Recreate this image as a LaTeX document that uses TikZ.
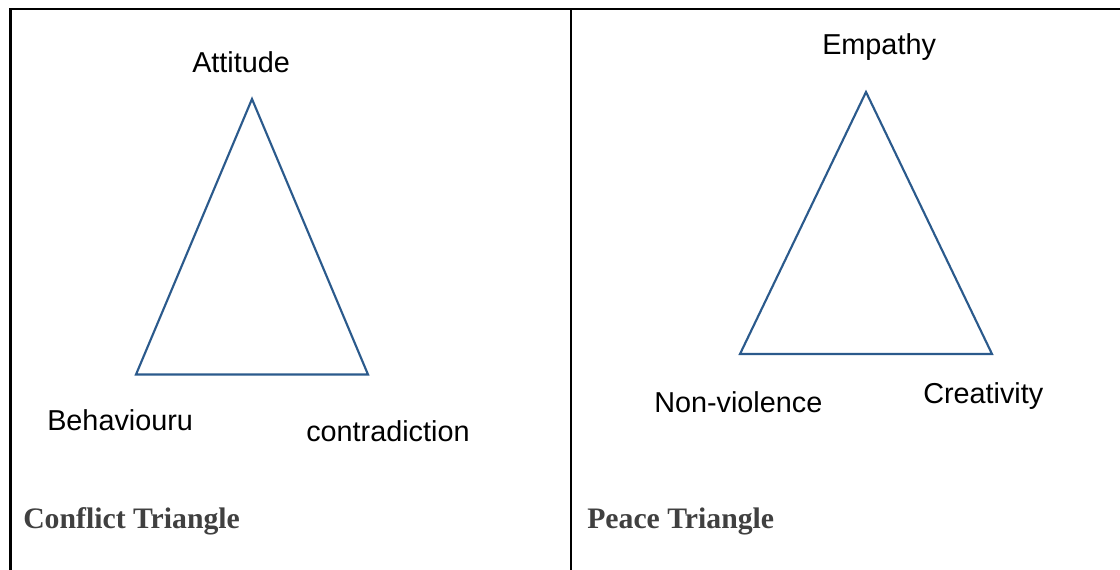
\documentclass[tikz,border=0pt]{standalone}
\usepackage{fontspec}
\setmainfont{Liberation Serif}
\newfontfamily\arialfont{Liberation Sans}
\definecolor{triblue}{HTML}{2B5A8C}
\definecolor{capgray}{HTML}{404040}
\begin{document}
\begin{tikzpicture}[x=0.75pt,y=-0.75pt,
  frame/.style={draw=black,line width=2.2pt},
  tri/.style={draw=triblue,line width=1.6pt,line join=miter},
  lbl/.style={font=\arialfont\fontsize{21.6pt}{26pt}\selectfont,text=black,anchor=base west,inner sep=0pt},
  captiontext/.style={font=\bfseries\fontsize{22.3pt}{26pt}\selectfont,text=capgray,anchor=base west,inner sep=0pt}]
\useasboundingbox (0,0) rectangle (1120,570);
% table frame
\coordinate (tl) at (10.5,9);
\coordinate (tr) at (1120,9);
\coordinate (bl) at (10.5,570);
\coordinate (mt) at (571,9);
\coordinate (mb) at (571,570);
\draw[frame] (bl) -- (tl) -- (tr);
\draw[frame] (mt) -- (mb);
% conflict triangle
\coordinate (a1) at (252,99);
\coordinate (b1) at (136,374.5);
\coordinate (c1) at (368,374.5);
\draw[tri] (a1) -- (b1) -- (c1) -- cycle;
\node[lbl] (att) at (192,73) {Attitude};
\node[lbl] (beh) at (47,430) {Behaviouru};
\node[lbl] (con) at (306,441) {contradiction};
\node[captiontext] (ct) at (23,528) {Conflict Triangle};
% peace triangle
\coordinate (a2) at (866,92);
\coordinate (b2) at (740,354);
\coordinate (c2) at (992,354);
\draw[tri] (a2) -- (b2) -- (c2) -- cycle;
\node[lbl] (emp) at (822,55) {Empathy};
\node[lbl] (nonv) at (654,412) {Non-violence};
\node[lbl] (cre) at (923,403) {Creativity};
\node[captiontext] (pt) at (587,528) {Peace Triangle};
\end{tikzpicture}
\end{document}
